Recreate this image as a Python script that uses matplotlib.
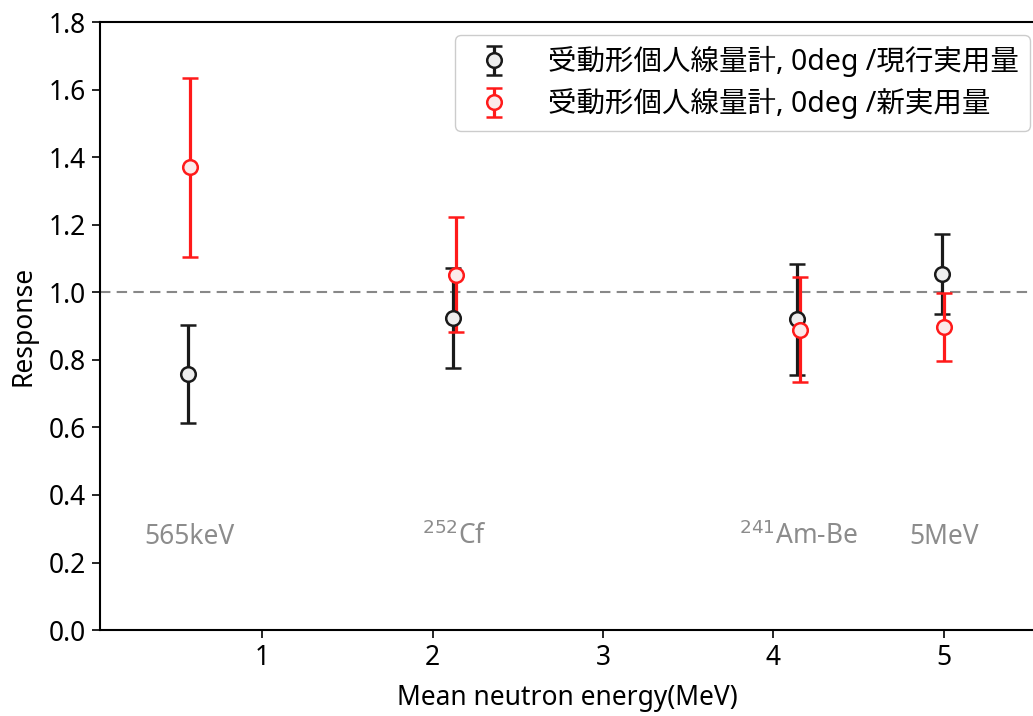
import matplotlib
matplotlib.use("Agg")
import matplotlib.pyplot as plt

plt.rcParams['font.family'] = ['Noto Sans', 'Noto Sans CJK JP', 'DejaVu Sans']

# Mean neutron energies (MeV) of each field
energy_current = [0.565, 2.12, 4.14, 4.99]
energy_new = [0.575, 2.135, 4.155, 5.0]

# Response ratios and uncertainties
resp_current = [0.758, 0.924, 0.920, 1.054]
err_current = [0.145, 0.148, 0.165, 0.118]
resp_new = [1.370, 1.052, 0.890, 0.898]
err_new = [0.264, 0.170, 0.156, 0.100]

field_labels = ['565keV', r'$^{252}$Cf', r'$^{241}$Am-Be', '5MeV']
field_x = [0.57, 2.13, 4.15, 5.0]

label_current = '受動形個人線量計, 0deg /現行実用量'
label_new = '受動形個人線量計, 0deg /新実用量'

FS = 19

fig = plt.figure(figsize=(10.33, 7.16), dpi=100)
ax = fig.add_axes([0.0968, 0.12, 0.905, 0.849])

ax.axhline(1.0, color='#888888', linestyle='--', linewidth=1.5, dashes=(5, 3))

ax.errorbar(energy_current, resp_current, yerr=err_current, fmt='o',
            color='#1a1a1a', mfc='#eeeeee', mec='#1a1a1a', ms=10.5, mew=1.8,
            elinewidth=2.3, capsize=5.8, capthick=2.3, label=label_current)
ax.errorbar(energy_new, resp_new, yerr=err_new, fmt='o',
            color='#ff1a1a', mfc='#fbeaea', mec='#ff1a1a', ms=10.5, mew=1.8,
            elinewidth=2.3, capsize=5.8, capthick=2.3, label=label_new)

for x, t in zip(field_x, field_labels):
    ax.text(x, 0.275, t, color='#8c8c8c', fontsize=FS, ha='center', va='center',
            math_fontfamily='dejavusans')

ax.set_xlim(0.047, 5.535)
ax.set_ylim(0.0, 1.8)
ax.set_xticks([1, 2, 3, 4, 5])
ax.set_yticks([0.0, 0.2, 0.4, 0.6, 0.8, 1.0, 1.2, 1.4, 1.6, 1.8])
ax.set_yticklabels([f'{v:.1f}' for v in ax.get_yticks()])
ax.tick_params(labelsize=FS, width=1.2, length=6, pad=4)
for s in ax.spines.values():
    s.set_linewidth(1.5)

ax.set_xlabel('Mean neutron energy(MeV)', fontsize=FS, labelpad=9)
ax.set_ylabel('Response', fontsize=FS, labelpad=8)

ax.legend(loc='upper right', fontsize=20.5, handletextpad=0.95, borderpad=0.4,
          labelspacing=0.38, handlelength=1.9, borderaxespad=0,
          bbox_to_anchor=(0.9947, 0.979), framealpha=1, edgecolor='#cccccc')

fig.savefig('out.png', dpi=100)
